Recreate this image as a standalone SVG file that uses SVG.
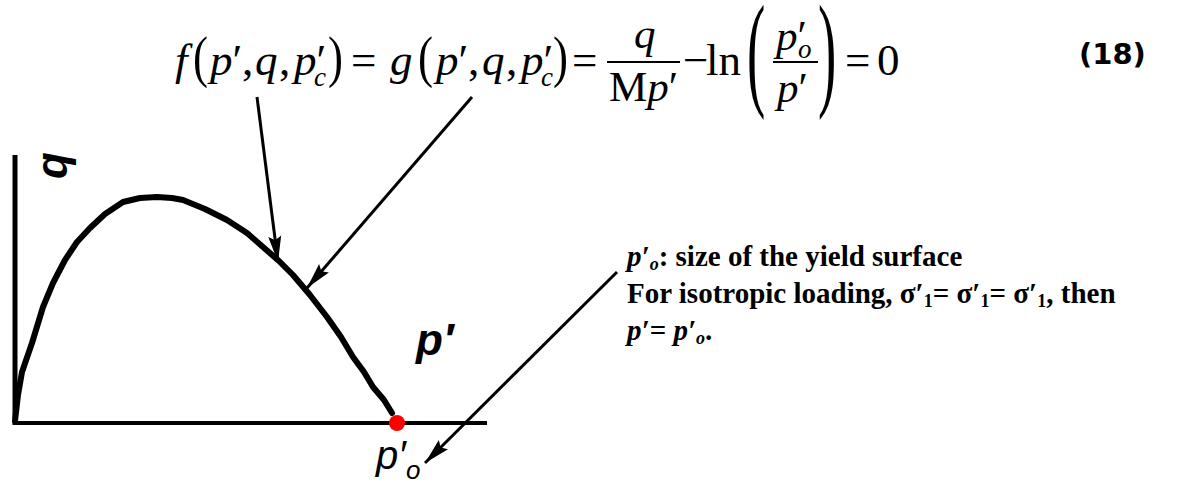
<svg xmlns="http://www.w3.org/2000/svg" width="1192" height="483" viewBox="0 0 1192 483">
<defs>
<style>
.eq{font-family:"Liberation Serif","Times New Roman",serif;font-size:45px;fill:#000}
.fr{font-size:43px}
.i{font-style:italic}
.sub{font-size:27px}
.lbl{font-family:"Liberation Sans",Arial,sans-serif;font-weight:bold;font-style:italic;font-size:44px;fill:#000}
.note{font-family:"Liberation Serif","Times New Roman",serif;font-weight:bold;font-size:29px;fill:#000}
.conn{stroke:#000;stroke-width:3;fill:none;marker-end:url(#ah)}
.axis{stroke:#000;fill:none}
</style>
<marker id="ah" markerUnits="userSpaceOnUse" markerWidth="30" markerHeight="18" viewBox="-28 -9 30 18" refX="0" refY="0" orient="auto">
<path d="M0,0 L-26,-6.5 L-22,0 L-26,6.5 Z" fill="#000"/>
</marker>
</defs>
<rect width="1192" height="483" fill="#fff"/>

<g id="equation">
<text class="eq i" x="175" y="75">f</text>
<text class="eq" transform="translate(193,76) scale(1,1.28)">(</text>
<text class="eq" x="210" y="75"><tspan class="i">p</tspan>′</text>
<text class="eq" x="242" y="75">,</text>
<text class="eq i" x="255" y="75">q</text>
<text class="eq" x="279" y="75">,</text>
<text class="eq" x="294" y="75"><tspan class="i">p</tspan>′</text>
<text class="eq i sub" x="314" y="86">c</text>
<text class="eq" transform="translate(328,76) scale(1,1.28)">)</text>
<text class="eq" x="351" y="75">=</text>
<text class="eq i" x="390" y="75">g</text>
<text class="eq" transform="translate(418,76) scale(1,1.28)">(</text>
<text class="eq" x="436" y="75"><tspan class="i">p</tspan>′</text>
<text class="eq" x="468" y="75">,</text>
<text class="eq i" x="482" y="75">q</text>
<text class="eq" x="506" y="75">,</text>
<text class="eq" x="521" y="75"><tspan class="i">p</tspan>′</text>
<text class="eq i sub" x="541" y="86">c</text>
<text class="eq" transform="translate(553,76) scale(1,1.28)">)</text>
<text class="eq" x="572" y="75">=</text>
<text class="eq fr i" x="634" y="48">q</text>
<line x1="607" y1="62" x2="680" y2="62" stroke="#000" stroke-width="1.8"/>
<text class="eq fr" x="609" y="101">M<tspan class="i">p</tspan>′</text>
<text class="eq" x="683" y="75">−</text>
<text class="eq" x="706" y="75">ln</text>
<text class="eq" transform="translate(747,93) scale(1,2.3)" style="font-size:55px">(</text>
<text class="eq fr" x="776" y="50"><tspan class="i">p</tspan>′</text>
<text class="eq i sub" x="798" y="58">o</text>
<line x1="773" y1="62" x2="818" y2="62" stroke="#000" stroke-width="1.8"/>
<text class="eq fr" x="777" y="102"><tspan class="i">p</tspan>′</text>
<text class="eq" transform="translate(818,93) scale(1,2.3)" style="font-size:55px">)</text>
<text class="eq" x="845" y="75">=</text>
<text class="eq" x="877" y="75">0</text>
</g>

<g id="eq-number">
<text x="1079" y="64" style="font-family:'DejaVu Sans',sans-serif;font-weight:bold;font-size:29px">(18)</text>
</g>

<g id="axes">
<line class="axis" x1="15" y1="155" x2="15" y2="425" stroke-width="5"/>
<line class="axis" x1="13" y1="423" x2="487" y2="423" stroke-width="4"/>
<text class="lbl" transform="rotate(-90 67 179)" x="67" y="179">q</text>
<text class="lbl" x="416" y="355">p′</text>
</g>

<g id="yield-curve">
<polyline points="15,421 18,395 22,372 32,343 43,307 53,283 65,260 77,242 90,228 105,214 123,202 140,198 157,197 172,198 183,200 205,209 227,220 247,233 263,247 279,261 293,275 310,295 327,317 341,337 353,357 364,372 373,387 384,400 392,413" fill="none" stroke="#000" stroke-width="6" stroke-linejoin="round" stroke-linecap="round"/>
<circle cx="397" cy="423" r="8" fill="#ff0000"/>
</g>

<g id="po-label">
<text x="376" y="469" style="font-family:'Liberation Sans',Arial,sans-serif;font-style:italic;font-size:40px">p′</text>
<text x="406" y="479" style="font-family:'Liberation Sans',Arial,sans-serif;font-style:italic;font-size:26px">o</text>
</g>

<g id="note">
<text class="note" x="627" y="266"><tspan font-style="italic">p′<tspan font-size="18" dy="4">o</tspan></tspan><tspan dy="-4">: size of the yield surface</tspan></text>
<text class="note" x="627" y="303">For isotropic loading, σ′<tspan font-size="18" dy="4">1</tspan><tspan dy="-4">= σ′</tspan><tspan font-size="18" dy="4">1</tspan><tspan dy="-4">= σ′</tspan><tspan font-size="18" dy="4">1</tspan><tspan dy="-4">, then</tspan></text>
<text class="note" x="627" y="340"><tspan font-style="italic">p′</tspan>= <tspan font-style="italic">p′<tspan font-size="18" dy="4">o</tspan></tspan><tspan dy="-4">.</tspan></text>
</g>

<g id="connectors">
<line class="conn" x1="257" y1="97" x2="278" y2="262"/>
<line class="conn" x1="472" y1="97" x2="307" y2="288"/>
<line class="conn" x1="617" y1="272" x2="425" y2="463"/>
</g>
</svg>
